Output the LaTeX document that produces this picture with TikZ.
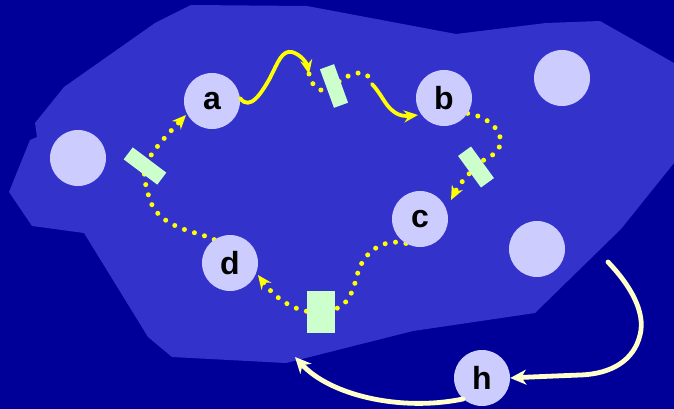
\documentclass[tikz,border=0pt]{standalone}
\usepackage{fontspec}
\setmainfont{Liberation Sans}
\usetikzlibrary{arrows.meta}
\definecolor{deepblue}{HTML}{000099}
\definecolor{regionblue}{HTML}{3333CC}
\definecolor{hostfill}{HTML}{CCCCFF}
\definecolor{gatefill}{HTML}{CCFFCC}
\definecolor{pathyellow}{HTML}{FFFF00}
\definecolor{cream}{HTML}{FFFFCC}
\pgfdeclarelayer{back}
\pgfdeclarelayer{trail}
\pgfsetlayers{back,trail,main}
\tikzset{
  host/.style={circle, fill=hostfill, minimum size=56pt, inner sep=0pt,
    font=\fontsize{32}{32}\selectfont\bfseries, text=black},
  gate/.style={rectangle, fill=gatefill, inner sep=0pt},
  dotted trail/.style={draw=pathyellow, line width=5pt, line cap=round,
    dash pattern=on 0pt off 10.5pt},
  solid trail/.style={draw=pathyellow, line width=3.8pt, line cap=round},
  ytip/.style={-{Stealth[length=14pt,width=12pt,inset=4.5pt]}},
  creamline/.style={draw=cream, line width=4.8pt, line cap=round,
    -{Stealth[length=16pt,width=15pt,inset=5pt]}}
}
\begin{document}
\begin{tikzpicture}[x=1pt,y=-1pt]
\useasboundingbox (0,0) rectangle (674,409);
\begin{pgfonlayer}{back}
  \fill[deepblue] (0,0) rectangle (674,409);
  % the shaded network region
  \fill[regionblue] (191,5) -- (307,6) -- (456,34) -- (546,23) -- (600,21)
    -- (674,63) -- (674,163) -- (621,229) -- (535,313) -- (413,331)
    -- (286,363) -- (172,357) -- (148,337) -- (84,233) -- (32,226)
    -- (9,192) -- (30,140) -- (37,137) -- (35,123) -- (64,87) -- (155,23)
    -- cycle;
\end{pgfonlayer}

% hosts
\node[host] (a) at (212,101) {a};
\node[host] (b) at (444,98) {b};
\node[host] (c) at (420,219) {c};
\node[host] (d) at (230,263) {d};
\node[host] (h) at (482,378) {h};
\node[host] (w) at (78,158) {};
\node[host] (n) at (562,78) {};
\node[host] (e) at (537,249) {};

% gateways
\node[gate, minimum width=15pt, minimum height=41pt, rotate=20] (gab) at (334,86) {};
\node[gate, minimum width=42pt, minimum height=15pt, rotate=-37] (gda) at (145,166) {};
\node[gate, minimum width=39pt, minimum height=16pt, rotate=-54] (gbc) at (476,167) {};
\node[gate, minimum width=28pt, minimum height=42pt] (gcd) at (321,312) {};

\coordinate (t1) at (309,74);
\coordinate (t2) at (372,84);
\coordinate (s1) at (608,262);
\coordinate (s2) at (295,357);

% dotted legs, passing beneath the gateways
\begin{pgfonlayer}{trail}
  \draw[dotted trail] (t1) .. controls (312,88) and (322,96) .. (gab.center)
    .. controls (340,80) and (352,72) .. (362,73) .. controls (368,74) and (371,79) .. (t2);
  \path[dotted trail, ytip] (b.-33) .. controls (495,118) and (506,138) .. (498,150)
    .. controls (490,160) and (472,163) .. (gbc.center)
    .. controls (460,182) and (455,192) .. (451,200);
  \path[dotted trail, ytip] (c.240) .. controls (385,238) and (365,250) .. (358,272)
    .. controls (352,295) and (348,310) .. (gcd.center)
    .. controls (300,314) and (278,302) .. (258,275);
  \path[dotted trail, ytip] (d.124) .. controls (200,232) and (165,230) .. (152,205)
    .. controls (146,190) and (143,176) .. (gda.center)
    .. controls (152,150) and (170,132) .. (186,115);
\end{pgfonlayer}

% solid legs
\draw[solid trail, ytip] (a.6) .. controls (250,112) and (262,92) .. (270,78)
  .. controls (278,62) and (282,50) .. (292,52) .. controls (302,55) and (307,64) .. (t1);
\draw[solid trail, ytip] (t2) .. controls (382,95) and (385,105) .. (393,111)
  .. controls (400,117) and (408,116) .. (418,115);

% arrows around h
\draw[creamline] (s1) .. controls (630,285) and (646,312) .. (640,335)
  .. controls (634,360) and (612,374) .. (580,375)
  .. controls (555,376) and (530,377) .. (h.east);
\draw[creamline] (h.228) .. controls (400,412) and (330,395) .. (s2);
\end{tikzpicture}
\end{document}
